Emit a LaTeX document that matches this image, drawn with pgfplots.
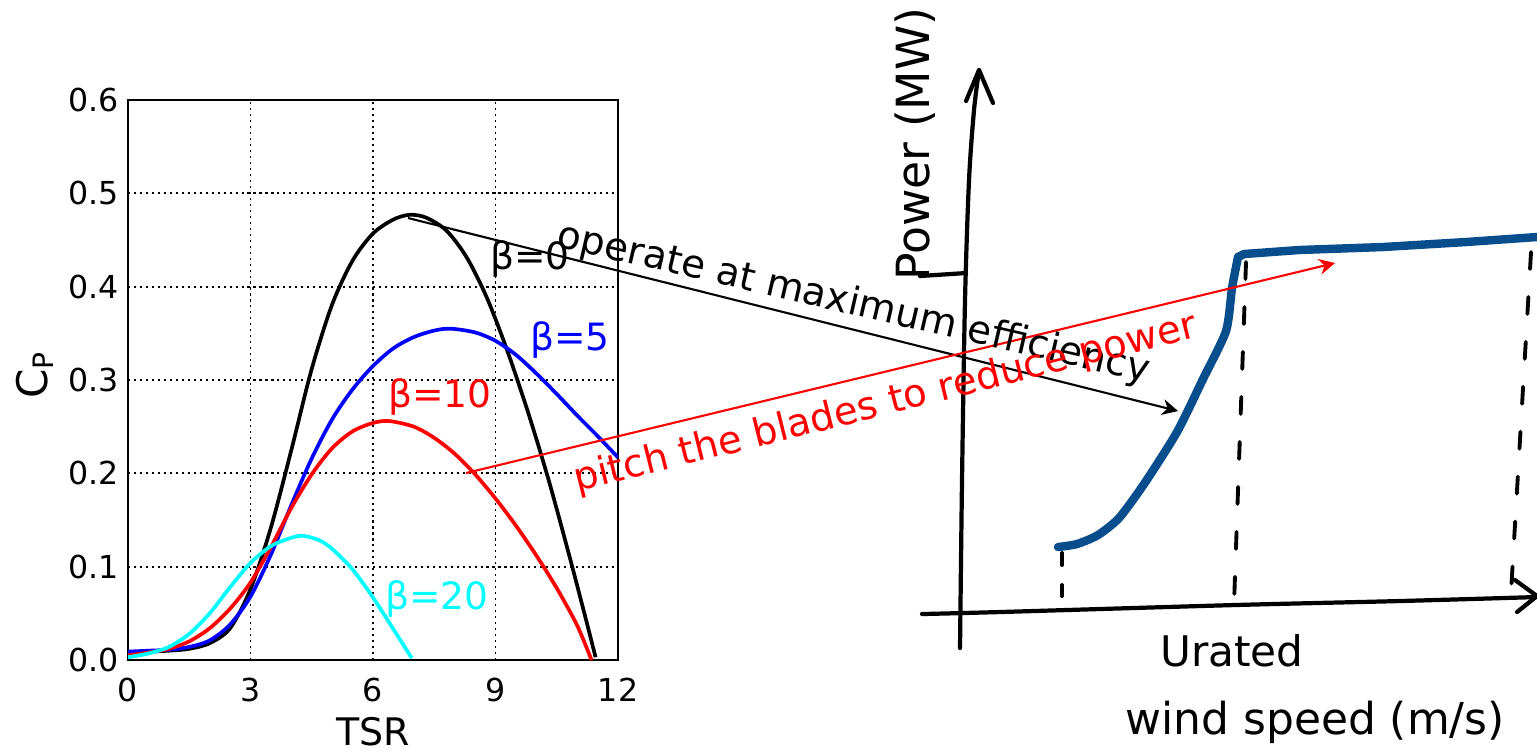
\documentclass[border=0pt]{standalone}
\usepackage{fontspec}
\setmainfont{DejaVu Sans}
\setsansfont{DejaVu Sans}
\usepackage{pgfplots}
\usepackage{pgfplotstable}
\pgfplotsset{compat=1.18}
\usetikzlibrary{arrows.meta}
\definecolor{curveblue}{RGB}{8,78,140}
\definecolor{mplcyan}{RGB}{0,255,255}

\pgfplotstableread{
x y
0 0.008
0.5 0.009
1 0.010
1.5 0.012
2 0.018
2.5 0.034
3 0.076
3.5 0.142
4 0.225
4.5 0.312
5 0.381
5.5 0.428
6 0.457
6.5 0.472
6.9 0.477
7.3 0.474
7.8 0.460
8.3 0.431
8.8 0.387
9.3 0.330
9.8 0.265
10.3 0.193
10.8 0.113
11.2 0.046
11.45 0.003
}\bzero

\pgfplotstableread{
x y
0 0.009
0.5 0.010
1 0.011
1.5 0.014
2 0.021
2.5 0.038
3 0.068
3.5 0.113
4 0.166
4.5 0.216
5 0.258
5.5 0.290
6 0.315
6.5 0.334
7 0.346
7.5 0.353
7.9 0.355
8.5 0.351
9 0.342
9.5 0.327
10 0.307
10.5 0.285
11 0.262
11.5 0.240
12 0.217
}\bfive

\pgfplotstableread{
x y
0 0.005
0.5 0.008
1 0.012
1.5 0.020
2 0.034
2.5 0.055
3 0.083
3.5 0.121
4 0.163
4.5 0.199
5 0.227
5.5 0.245
6 0.254
6.4 0.256
7 0.250
7.5 0.238
8 0.221
8.5 0.199
9 0.173
9.5 0.144
10 0.112
10.5 0.077
11 0.037
11.35 0.0
}\bten

\pgfplotstableread{
x y
0 0.003
0.5 0.007
1 0.014
1.5 0.028
2 0.050
2.5 0.078
3 0.104
3.5 0.122
4 0.131
4.3 0.133
4.7 0.128
5 0.119
5.5 0.097
6 0.067
6.5 0.033
6.95 0.002
}\btwenty

\pgfplotstableread{
x y
1058 547
1077 544
1098 535
1119 518
1144 484
1177 432
1203 379
1226 331
1232 288
1238 257
}\powerlow

\pgfplotstableread{
x y
1238 257
1244 254
1299 250
1383 247
1466 242
1537 237
}\powerhigh

\begin{document}
\begin{tikzpicture}
% ---------------- left Cp chart ----------------
\begin{axis}[
  at={(3.73cm,3.72cm)}, anchor=center,
  scale only axis, width=4.9cm, height=5.6cm,
  xmin=0, xmax=12, ymin=0, ymax=0.6,
  xtick={0,3,6,9,12},
  ytick={0,0.1,0.2,0.3,0.4,0.5,0.6},
  /pgf/number format/assume math mode=true,
  ticklabel style={font=\fontsize{9}{10}\selectfont},
  xticklabel style={yshift=-0.06cm},
  yticklabel style={xshift=0.03cm, /pgf/number format/.cd, fixed, fixed zerofill, precision=1},
  grid=major,
  major grid style={black, line width=0.5pt, dash pattern=on 0.6pt off 1.1pt},
  major tick length=0pt,
  axis line style={line width=0.6pt},
  xlabel={TSR},
  ylabel={C\textsubscript{P}},
  xlabel style={font=\fontsize{10.8}{12}\selectfont, at={(axis description cs:0.5,-0.1286)}, anchor=center},
  ylabel style={font=\fontsize{12}{14}\selectfont, at={(axis description cs:-0.19,0.51)}, anchor=center},
]
\addplot[black, line width=1.05pt, smooth] table {\bzero};
\addplot[blue, line width=1.05pt, smooth] table {\bfive};
\addplot[red, line width=1.05pt, smooth] table {\bten};
\addplot[mplcyan, line width=1.05pt, smooth] table {\btwenty};
\end{axis}

% ---------------- canvas in pixel coordinates ----------------
\begin{axis}[
  at={(7.685cm,3.76cm)}, anchor=center,
  scale only axis, width=15.37cm, height=7.52cm,
  xmin=0, xmax=1537, ymin=0, ymax=752, y dir=reverse,
  hide axis, clip=false,
]
% beta labels
\node[font=\fontsize{10.7}{12}\selectfont, text=black] at (530,259) {β=0};
\node[font=\fontsize{10.7}{12}\selectfont, text=blue] at (570,340) {β=5};
\node[font=\fontsize{10.7}{12}\selectfont, text=red] at (440,397) {β=10};
\node[font=\fontsize{10.7}{12}\selectfont, text=mplcyan] at (437,599) {β=20};

% hand-drawn axes
\addplot[black, line width=1.2pt, line cap=round, line join=round, smooth] coordinates {(960,648) (962,480) (965,300) (969,180) (974,110) (979,70)};
\addplot[black, line width=1.2pt, line cap=round, line join=round] coordinates {(966,101) (979,70) (993,103)};
\addplot[black, line width=1.2pt, line cap=round, line join=round, smooth] coordinates {(922,614) (1000,612) (1235,605) (1400,601) (1537,597)};
\addplot[black, line width=1.2pt, line cap=round, line join=round] coordinates {(1515,580) (1537,596) (1517,612)};
\addplot[black, line width=1.2pt, line cap=round] coordinates {(920,276) (966,273)};
% dashed guides
\addplot[black, line width=1.1pt, line cap=round, dash pattern=on 0.17cm off 0.28cm] coordinates {(1246,262) (1234,604)};
\addplot[black, line width=1.1pt, line cap=round, dash pattern=on 0.17cm off 0.28cm] coordinates {(1531,252) (1511,592)};
\addplot[black, line width=1.1pt, line cap=round, dash pattern=on 0.12cm off 0.2cm] coordinates {(1062,553) (1062,596)};
% power curve
\addplot[curveblue, line width=2.4pt, line cap=round, line join=round, smooth, tension=0.4] table {\powerlow};
\addplot[curveblue, line width=2.4pt, line cap=round, line join=round] table {\powerhigh};

% handwritten labels
\node[font=\fontsize{13}{15}\selectfont, rotate=90] at (915,144) {Power (MW)};
\node[font=\fontsize{12}{14}\selectfont] at (1232,651) {Urated};
\node[font=\fontsize{12.5}{14}\selectfont] at (1315,722) {wind speed (m/s)};

% annotations
\addplot[black, line width=0.6pt, -{Stealth[length=4.5pt,width=4.5pt]}] coordinates {(408,218) (1178,411)};
\addplot[red, line width=0.6pt, -{Stealth[length=4.5pt,width=4.5pt]}] coordinates {(466,473) (1335,263)};
\node[font=\fontsize{11}{13}\selectfont, rotate=-13, anchor=base west, inner sep=0pt] at (555,246) {operate at maximum efficiency};
\node[font=\fontsize{11}{13}\selectfont, text=red, rotate=14, anchor=base west, inner sep=0pt] at (577,492) {pitch the blades to reduce power};
\end{axis}
\pgfresetboundingbox
\path[use as bounding box] (0,0) rectangle (15.37cm,7.52cm);
\end{tikzpicture}
\end{document}
